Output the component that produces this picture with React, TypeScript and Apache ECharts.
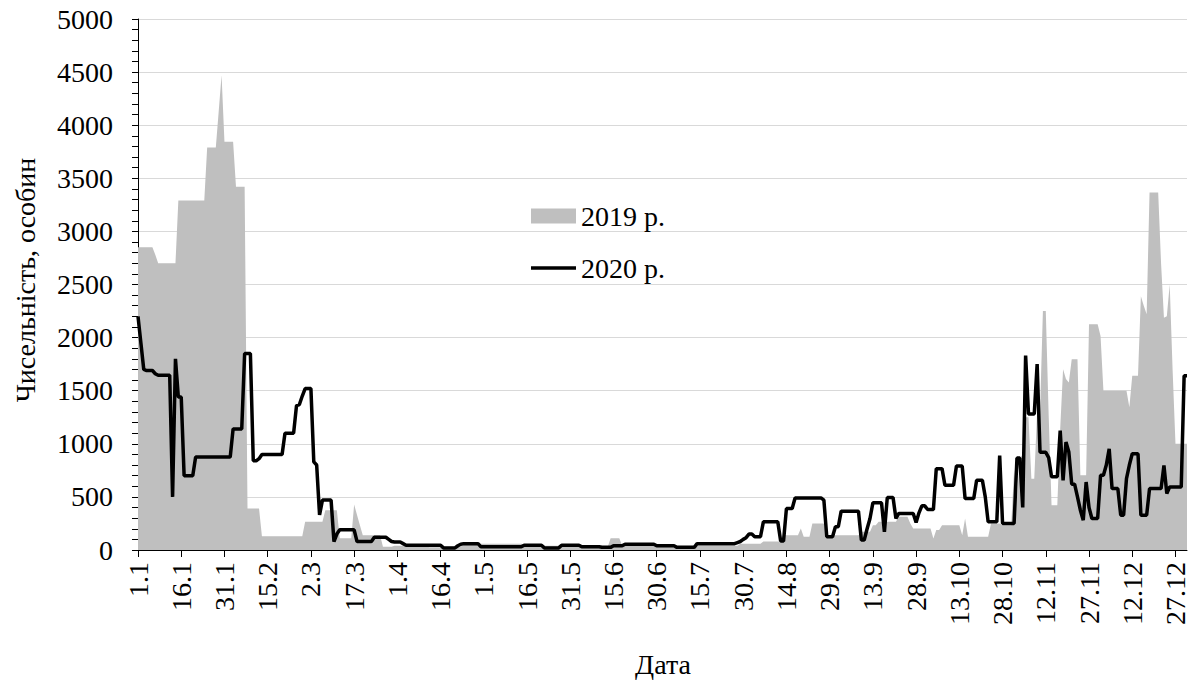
import React, { useEffect, useRef } from "react";
import * as echarts from "echarts";

// Calendar (non-leap year, as on the axis labels)
const MONTH_DAYS = [31, 28, 31, 30, 31, 30, 31, 31, 30, 31, 30, 31];
const categories: string[] = [];
MONTH_DAYS.forEach((n, m) => {
  for (let d = 1; d <= n; d++) categories.push(`${d}.${m + 1}`);
});

const SERIES_2019_NAME = "2019 р.";
const SERIES_2020_NAME = "2020 р.";

// 2019 (grey area), one value per day, rows of 15 days
const values2019 = [
  2850, 2850, 2850, 2850, 2850, 2850, 2780, 2700, 2700, 2700, 2700, 2700, 2700, 2700, 3290,
  3290, 3290, 3290, 3290, 3290, 3290, 3290, 3290, 3290, 3790, 3790, 3790, 3790, 4130, 4470,
  3845, 3845, 3845, 3845, 3420, 3420, 3420, 3420, 390, 390, 390, 390, 390, 130, 130,
  130, 130, 130, 130, 130, 130, 130, 130, 130, 130, 130, 130, 130, 265, 265,
  265, 265, 265, 265, 265, 375, 375, 375, 375, 375, 110, 110, 110, 110, 110,
  428, 330, 234, 140, 140, 140, 140, 140, 140, 140, 30, 30, 30, 30, 40,
  40, 40, 40, 40, 40, 40, 40, 40, 40, 40, 40, 25, 25, 25, 25,
  25, 30, 30, 30, 30, 30, 30, 30, 55, 55, 55, 55, 55, 55, 60,
  60, 60, 60, 60, 60, 60, 60, 60, 60, 60, 60, 60, 60, 60, 50,
  50, 50, 50, 50, 50, 50, 40, 40, 40, 40, 40, 40, 50, 50, 50,
  50, 50, 50, 30, 30, 30, 30, 30, 30, 30, 30, 30, 30, 30, 110,
  110, 110, 110, 45, 45, 45, 45, 45, 45, 45, 45, 45, 45, 45, 45,
  35, 35, 35, 35, 35, 35, 35, 35, 35, 35, 35, 35, 35, 35, 40,
  40, 40, 40, 40, 40, 40, 40, 40, 40, 40, 40, 40, 40, 40, 60,
  60, 60, 60, 60, 60, 60, 60, 80, 80, 80, 80, 80, 80, 80, 156,
  140, 140, 140, 140, 140, 203, 125, 125, 125, 250, 250, 250, 250, 250, 140,
  140, 140, 140, 140, 140, 140, 140, 140, 140, 140, 140, 172, 172, 172, 172,
  234, 234, 266, 266, 266, 266, 266, 266, 266, 312, 312, 312, 312, 250, 203,
  203, 203, 203, 203, 203, 203, 109, 188, 188, 234, 234, 234, 234, 234, 234,
  234, 140, 297, 125, 125, 125, 125, 125, 125, 125, 125, 250, 250, 250, 250,
  234, 234, 234, 234, 750, 500, 860, 900, 1250, 1250, 672, 672, 1300, 1300, 2250,
  2250, 1270, 422, 422, 422, 1140, 1703, 1609, 1578, 1797, 1797, 1797, 703, 703, 703,
  2125, 2125, 2125, 2125, 2016, 1500, 1500, 1500, 1500, 1500, 1500, 1500, 1500, 1500, 1344,
  1640, 1640, 1640, 2390, 2300, 2219, 3366, 3366, 3366, 3366, 2700, 2188, 2200, 2500, 1700,
  1000, 1000, 1000, 1000, 1000,
];

// 2020 (black line), one value per day, rows of 15 days
const values2020 = [
  2200, 1950, 1700, 1690, 1690, 1690, 1660, 1645, 1645, 1645, 1645, 1645, 500, 1800, 1440,
  1440, 700, 700, 700, 700, 875, 875, 875, 875, 875, 875, 875, 875, 875, 875,
  875, 875, 875, 1140, 1140, 1140, 1140, 1850, 1850, 1850, 840, 840, 860, 900, 900,
  900, 900, 900, 900, 900, 900, 1100, 1100, 1100, 1100, 1360, 1370, 1450, 1520, 1520,
  1520, 830, 800, 330, 470, 470, 470, 470, 80, 150, 190, 190, 190, 190, 190,
  190, 80, 80, 80, 80, 80, 80, 120, 120, 120, 120, 120, 100, 80, 75,
  75, 75, 60, 45, 45, 45, 45, 45, 45, 45, 45, 45, 45, 45, 45,
  45, 20, 20, 20, 20, 20, 40, 55, 60, 60, 60, 60, 60, 60, 30,
  30, 30, 30, 30, 30, 30, 30, 30, 30, 30, 30, 30, 30, 30, 45,
  45, 45, 45, 45, 45, 45, 20, 20, 20, 20, 20, 20, 45, 45, 45,
  45, 45, 45, 45, 30, 30, 30, 30, 30, 30, 30, 25, 25, 25, 25,
  40, 40, 40, 40, 55, 55, 55, 55, 55, 55, 55, 55, 55, 55, 55,
  40, 40, 40, 40, 40, 40, 40, 25, 25, 25, 25, 25, 25, 25, 60,
  60, 60, 60, 60, 60, 60, 60, 60, 60, 60, 60, 60, 60, 70, 80,
  100, 116, 150, 150, 125, 125, 125, 265, 265, 265, 265, 265, 265, 84, 84,
  390, 390, 390, 490, 490, 490, 490, 490, 490, 490, 490, 490, 490, 470, 125,
  125, 125, 219, 219, 366, 366, 366, 366, 366, 366, 366, 94, 94, 200, 297,
  444, 444, 444, 444, 172, 494, 494, 494, 297, 344, 344, 344, 344, 344, 344,
  259, 350, 416, 416, 381, 381, 381, 766, 766, 766, 609, 609, 609, 609, 790,
  790, 790, 484, 484, 484, 484, 656, 656, 656, 500, 265, 265, 265, 265, 890,
  250, 250, 250, 250, 250, 866, 866, 400, 1830, 1281, 1281, 1281, 1750, 920, 920,
  920, 870, 690, 690, 690, 1125, 656, 1016, 922, 620, 620, 500, 375, 281, 640,
  400, 297, 297, 297, 703, 703, 800, 953, 578, 578, 578, 328, 328, 672, 800,
  906, 906, 906, 328, 328, 328, 578, 578, 578, 578, 578, 797, 531, 594, 594,
  594, 594, 594, 1640, 1640,
];

const Y_TITLE = "Чисельність, особин";
const X_TITLE = "Дата";

const FONT = "'Liberation Serif', 'Times New Roman', serif";

export default function App() {
  const ref = useRef<HTMLDivElement>(null);

  useEffect(() => {
    if (!ref.current) return;
    const chart = echarts.init(ref.current, undefined, { renderer: "svg" });
    chart.setOption({
      animation: false,
      backgroundColor: "#ffffff",
      textStyle: { fontFamily: FONT, color: "#000" },
      grid: { left: 138, right: 13, top: 19, bottom: 136, containLabel: false },
      legend: {
        orient: "vertical",
        left: 526,
        top: 196,
        itemWidth: 45,
        itemHeight: 15,
        itemGap: 22,
        symbolKeepAspect: true,
        textStyle: { fontFamily: FONT, fontSize: 28, color: "#000", lineHeight: 30 },
        data: [
          { name: SERIES_2019_NAME, icon: "rect" },
          { name: SERIES_2020_NAME, icon: "path://M0,0H45V3.5H0Z" },
        ],
      },
      xAxis: {
        type: "category",
        data: categories,
        boundaryGap: false,
        axisLine: { show: true, lineStyle: { color: "#000", width: 1 } },
        axisTick: { show: true, interval: 14, length: 7, lineStyle: { color: "#000" } },
        axisLabel: {
          interval: 14,
          rotate: 90,
          fontSize: 28,
          fontFamily: FONT,
          color: "#000",
          margin: 12,
        },
        splitLine: { show: false },
      },
      yAxis: {
        type: "value",
        min: 0,
        max: 5000,
        interval: 500,
        axisLine: { show: true, lineStyle: { color: "#000", width: 1 } },
        axisTick: { show: true, length: 6, lineStyle: { color: "#000" } },
        minorTick: { show: true, splitNumber: 5, length: 6, lineStyle: { color: "#000" } },
        axisLabel: {
          fontSize: 28,
          fontFamily: FONT,
          color: "#000",
          margin: 25,
          formatter: (v: number) => String(v),
        },
        splitLine: { show: true, lineStyle: { color: "#d9d9d9", width: 1 } },
      },
      series: [
        {
          name: SERIES_2019_NAME,
          type: "line",
          data: values2019,
          symbol: "none",
          lineStyle: { width: 0, color: "#bfbfbf" },
          itemStyle: { color: "#bfbfbf" },
          areaStyle: { color: "#bfbfbf", opacity: 1 },
          z: 2,
        },
        {
          name: SERIES_2020_NAME,
          type: "line",
          data: values2020,
          symbol: "none",
          lineStyle: { width: 3.5, color: "#000" },
          itemStyle: { color: "#000" },
          z: 3,
        },
      ],
      graphic: [
        {
          type: "text",
          x: 25,
          y: 280,
          rotation: Math.PI / 2,
          style: {
            text: Y_TITLE,
            fontSize: 28,
            fontFamily: FONT,
            fill: "#000",
            align: "center",
            verticalAlign: "middle",
          },
        },
        {
          type: "text",
          x: 663,
          y: 664,
          style: {
            text: X_TITLE,
            fontSize: 28,
            fontFamily: FONT,
            fill: "#000",
            align: "center",
            verticalAlign: "middle",
          },
        },
      ],
    });
    return () => chart.dispose();
  }, []);

  return (
    <div
      ref={ref}
      style={{ position: "fixed", left: 0, top: 0, width: 1200, height: 686, background: "#fff" }}
    />
  );
}
